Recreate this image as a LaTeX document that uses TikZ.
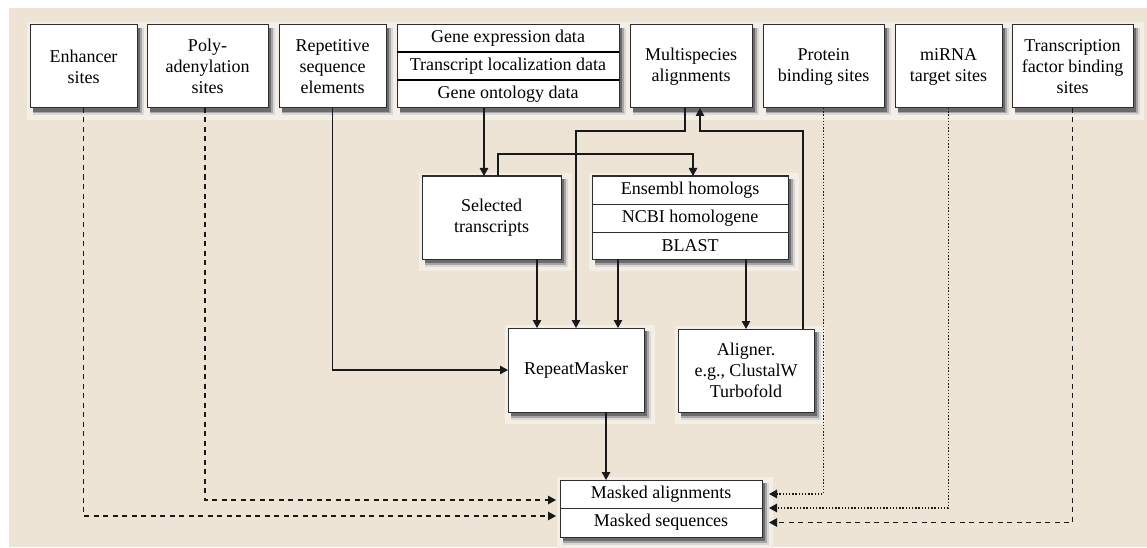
\documentclass[tikz,border=0pt]{standalone}
\usepackage{fontspec}
\setmainfont{Liberation Serif}
\usetikzlibrary{arrows.meta}
\definecolor{bgbeige}{RGB}{237,228,214}
\definecolor{halo}{RGB}{244,238,230}
\definecolor{linecol}{RGB}{25,25,25}
\definecolor{boxline}{RGB}{45,45,45}
\newcommand\mkshadow[4]{%
  \fill[halo] ({#1-#3/2-3},{#2-#4/2-3}) rectangle ({#1+#3/2+11},{#2+#4/2+12});
  \fill[black!15] ({#1-#3/2+3},{#2-#4/2+3}) rectangle ({#1+#3/2+7},{#2+#4/2+7.5});
  \fill[black!35] ({#1-#3/2+3},{#2-#4/2+3}) rectangle ({#1+#3/2+5},{#2+#4/2+5.5});
  \fill[black!58] ({#1-#3/2+3},{#2-#4/2+3}) rectangle ({#1+#3/2+3.2},{#2+#4/2+3.7});
}
\tikzset{
  box/.style={draw=boxline, line width=1pt, fill=white, inner sep=0pt, outer sep=0pt,
    align=center, font=\fontsize{18}{21}\selectfont},
  rowbox/.style={box},
  conn/.style={draw=linecol, line width=1.1pt},
  arr/.style={conn, -{Triangle[length=8pt,width=8.5pt]}},
  dashline/.style={arr, line width=1.3pt, dash pattern=on 5pt off 4.5pt},
  dotline/.style={arr, line width=1.4pt, dash pattern=on 1.4pt off 1.8pt},
}
\begin{document}
\begin{tikzpicture}[x=1pt,y=-1pt]
\useasboundingbox (0,0) rectangle (1147,548);
\fill[bgbeige] (9,8) rectangle (1147,547);

% shadows (drawn beneath the boxes)
\mkshadow{83.5}{66.5}{107}{83}
\mkshadow{207.5}{66.5}{121}{83}
\mkshadow{332.5}{66.5}{107}{83}
\mkshadow{508}{66.5}{222}{83}
\mkshadow{691}{66.5}{122}{83}
\mkshadow{823.5}{66.5}{121}{83}
\mkshadow{948.5}{66.5}{107}{83}
\mkshadow{1072.5}{66.5}{121}{83}
\mkshadow{491.5}{217.5}{139}{83}
\mkshadow{690}{217.5}{196}{83}
\mkshadow{576}{370}{136}{84}
\mkshadow{746}{370.5}{136}{83}
\mkshadow{661}{508.5}{202}{57}

% top row
\node[box, minimum width=107pt, minimum height=83pt] (enh) at (83.5,66.5) {Enhancer\\sites};
\node[box, minimum width=121pt, minimum height=83pt] (poly) at (207.5,66.5) {Poly-\\adenylation\\sites};
\node[box, minimum width=107pt, minimum height=83pt] (rep) at (332.5,66.5) {Repetitive\\sequence\\elements};
\node[box, minimum width=222pt, minimum height=83pt] (gene) at (508,66.5) {};
\node[rowbox, minimum width=222pt, minimum height=27pt] (gene1) at (508,38.5) {Gene expression data};
\node[rowbox, minimum width=222pt, minimum height=28pt] (gene2) at (508,66) {Transcript localization data};
\node[rowbox, minimum width=222pt, minimum height=28pt] (gene3) at (508,94) {Gene ontology data};
\draw[black, line width=1.8pt] (gene1.south west) -- (gene1.south east);
\draw[black, line width=1.8pt] (gene2.south west) -- (gene2.south east);
\node[box, minimum width=122pt, minimum height=83pt] (multi) at (691,66.5) {Multispecies\\alignments};
\node[box, minimum width=121pt, minimum height=83pt] (prot) at (823.5,66.5) {Protein\\binding sites};
\node[box, minimum width=107pt, minimum height=83pt] (mirna) at (948.5,66.5) {miRNA\\target sites};
\node[box, minimum width=121pt, minimum height=83pt] (tf) at (1072.5,66.5) {Transcription\\factor binding\\sites};

% middle row
\node[box, minimum width=139pt, minimum height=83pt] (sel) at (491.5,217.5) {Selected\\transcripts};
\node[box, minimum width=196pt, minimum height=83pt] (ens) at (690,217.5) {};
\node[rowbox, minimum width=196pt, minimum height=28pt] (ens1) at (690,190) {Ensembl homologs};
\node[rowbox, minimum width=196pt, minimum height=28pt] (ens2) at (690,218) {NCBI homologene};
\node[rowbox, minimum width=196pt, minimum height=27pt] (ens3) at (690,245.5) {BLAST};

% lower row
\node[box, minimum width=136pt, minimum height=84pt] (rm) at (576,370) {RepeatMasker};
\node[box, minimum width=136pt, minimum height=83pt] (al) at (746,370.5) {Aligner.\\e.g., ClustalW\\Turbofold};

% bottom
\node[box, minimum width=202pt, minimum height=57pt] (mask) at (661,508.5) {};
\node[rowbox, minimum width=202pt, minimum height=28pt] (mask1) at (661,494) {Masked alignments};
\node[rowbox, minimum width=202pt, minimum height=29pt] (mask2) at (661,522.5) {Masked sequences};

% solid connectors
\draw[arr] ([xshift=-24pt]gene3.south) -- ([xshift=-24pt]gene3.south |- sel.north);
\draw[arr] ([xshift=6.5pt]sel.north) -- ++(0,-22) -| ([xshift=3pt]ens1.north);
\draw[arr] ([xshift=-6pt]multi.south) -- ++(0,23) -| (rm.north);
\draw[arr] ([xshift=57pt]al.north) -- ++(0,-198) -| ([xshift=9pt]multi.south);
\draw[arr] ([xshift=45.5pt]sel.south) -- ([xshift=45.5pt]sel.south |- rm.north);
\draw[arr] ([xshift=-72pt]ens3.south) -- ([xshift=-72pt]ens3.south |- rm.north);
\draw[arr] ([xshift=56pt]ens3.south) -- ([xshift=56pt]ens3.south |- al.north);
\draw[arr] (rep.south) |- (rm.west);
\draw[arr] ([xshift=30pt]rm.south) -- ([xshift=30pt]rm.south |- mask1.north);

% dashed / dotted connectors
\draw[dashline, shorten >=4pt] (enh.south) |- ([yshift=6.5pt]mask2.west);
\draw[dashline, shorten >=4pt] ([xshift=-2.5pt]poly.south) |- ([yshift=-6pt]mask1.west);
\draw[dotline, shorten >=7pt] (prot.south) |- (mask1.east);
\draw[dotline, shorten >=7pt] (mirna.south) |- (mask1.south east);
\draw[dashline, shorten >=7pt] (tf.south) |- (mask2.east);
\end{tikzpicture}
\end{document}
